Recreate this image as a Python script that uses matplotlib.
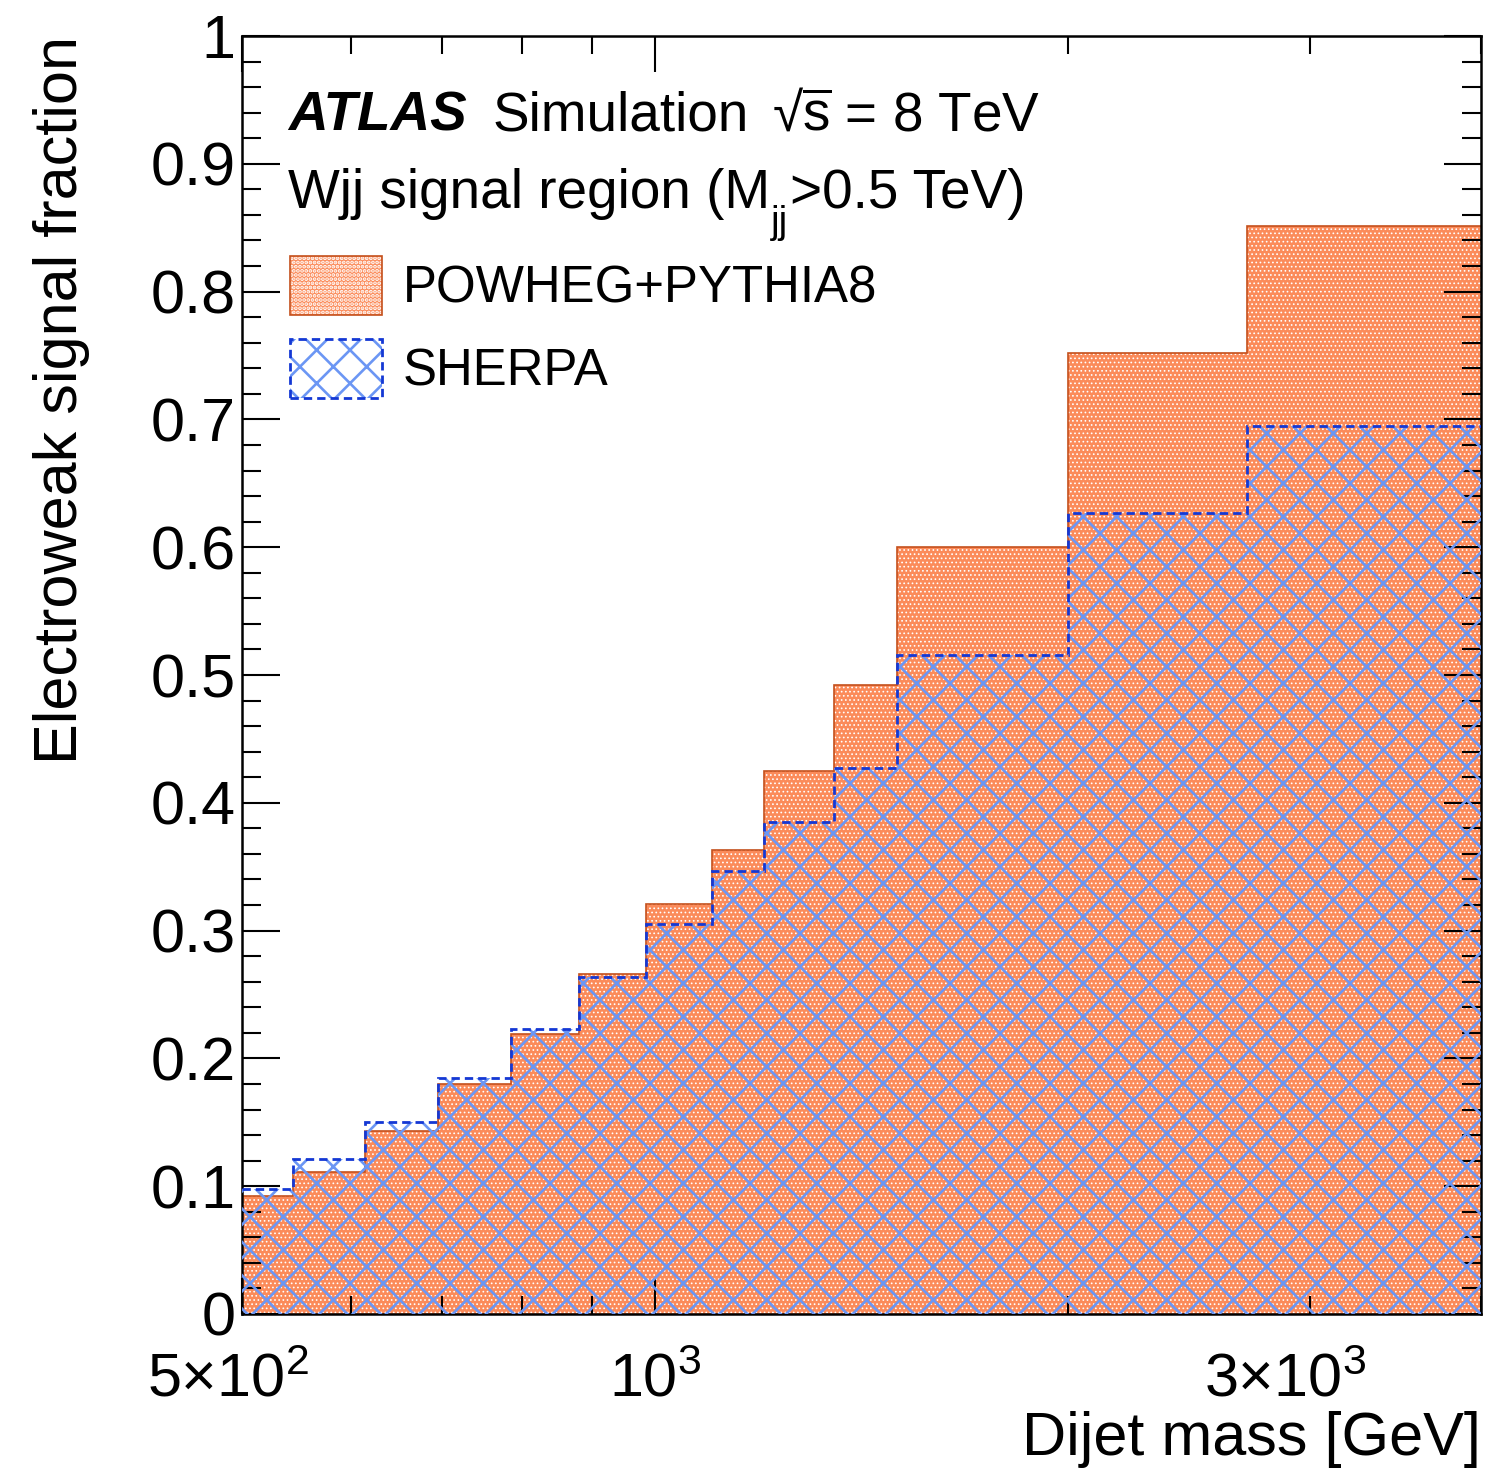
import matplotlib
matplotlib.use("Agg")
import matplotlib.pyplot as plt
import matplotlib.transforms as mtransforms
from matplotlib.patches import Patch
from matplotlib.legend_handler import HandlerTuple

# Dijet-mass binning [GeV] and electroweak signal fractions per bin
mjj_edges = [500, 545, 615, 695, 785, 880, 985, 1100, 1200, 1350, 1500, 2000, 2700, 4000]
powheg_frac = [0.092, 0.111, 0.143, 0.180, 0.219, 0.266, 0.321, 0.363,
               0.425, 0.492, 0.600, 0.752, 0.851]
sherpa_frac = [0.098, 0.121, 0.150, 0.185, 0.223, 0.264, 0.305, 0.347,
               0.385, 0.427, 0.516, 0.627, 0.695]

x_major = [500, 1000]
x_major_labels = [r"$\mathregular{5{\times}10^{2}}$", r"$\mathregular{10^{3}}$"]
x_minor = [600, 700, 800, 900, 2000, 3000, 4000]
x_minor_labels = ["", "", "", "", "", r"$\mathregular{3{\times}10^{3}}$", ""]
y_major = [0, 0.1, 0.2, 0.3, 0.4, 0.5, 0.6, 0.7, 0.8, 0.9, 1.0]
y_major_labels = ["0", "0.1", "0.2", "0.3", "0.4", "0.5", "0.6", "0.7", "0.8", "0.9", "1"]

ORANGE = "#fb8b5a"
ORANGE_EDGE = "#c4501c"
BLUE_HATCH = "#6b96f4"
BLUE_LINE = "#1438d4"
HATCH_LW_DOTS = 0.7
HATCH_LW_CROSS = 1.9
DASH = (0, (3.0, 1.8))

plt.rcParams["font.family"] = ["Liberation Sans", "DejaVu Sans"]
plt.rcParams["mathtext.fontset"] = "custom"
plt.rcParams["mathtext.rm"] = "Liberation Sans"
plt.rcParams["mathtext.it"] = "Liberation Sans:italic"
plt.rcParams["mathtext.bf"] = "Liberation Sans:bold"
plt.rcParams["hatch.linewidth"] = HATCH_LW_CROSS


def hatch_lw(artist, lw):
    if hasattr(artist, "set_hatch_linewidth"):
        artist.set_hatch_linewidth(lw)
    return artist


fig = plt.figure(figsize=(14.96, 14.75), dpi=100)
ax = fig.add_axes([242 / 1496, 161 / 1475, 1239 / 1496, 1278 / 1475])
ax.set_xscale("log")
ax.set_xlim(500, 4000)
ax.set_ylim(0, 1)

# POWHEG+PYTHIA8: dotted orange fill with a solid outline
with plt.rc_context({"hatch.linewidth": HATCH_LW_DOTS}):
    p_fill = ax.stairs(powheg_frac, mjj_edges, baseline=0, fill=True,
                       facecolor=ORANGE, edgecolor="white", hatch="....",
                       linewidth=0, zorder=1)
    hatch_lw(p_fill, HATCH_LW_DOTS)
ax.stairs(powheg_frac, mjj_edges, baseline=None, color=ORANGE_EDGE,
          linewidth=1.2, zorder=2)

# SHERPA: blue cross-hatch with dashed outline
s_fill = ax.stairs(sherpa_frac, mjj_edges, baseline=0, fill=True,
                   facecolor="none", edgecolor=BLUE_HATCH, hatch="x",
                   linewidth=0, zorder=3)
hatch_lw(s_fill, HATCH_LW_CROSS)
ax.stairs(sherpa_frac, mjj_edges, baseline=None, color=BLUE_LINE,
          linewidth=2.0, linestyle=DASH, zorder=4)

# Axis ticks, ATLAS style: inward on all four sides
ax.set_xticks(x_major, labels=x_major_labels)
ax.set_xticks(x_minor, labels=x_minor_labels, minor=True)
ax.set_yticks(y_major, labels=y_major_labels)
ax.set_yticks([v / 100 for v in range(0, 101, 2)], minor=True)
ax.yaxis.set_minor_formatter(plt.NullFormatter())
ax.tick_params(which="both", direction="in", top=True, right=True,
               width=1.5, colors="black")
ax.tick_params(axis="x", which="major", length=26, labelsize=44, pad=28)
ax.tick_params(axis="x", which="minor", length=13, labelsize=44, pad=28)
ax.tick_params(axis="y", which="major", length=27, labelsize=44, pad=4.5)
ax.tick_params(axis="y", which="minor", length=13.5)
for sp in ax.spines.values():
    sp.set_linewidth(1.8)

# Nudge the multiplied-exponent labels slightly left
for tick, dx in ((ax.xaxis.get_major_ticks()[0], -14),
                 (ax.xaxis.get_minor_ticks()[5], -24)):
    lab = tick.label1
    lab.set_transform(lab.get_transform() +
                      mtransforms.ScaledTranslation(dx / 100, 0, fig.dpi_scale_trans))

ax.set_xlabel("Dijet mass [GeV]", fontsize=44, loc="right")
ax.xaxis.set_label_coords(1.0, -0.076)
ax.set_ylabel("Electroweak signal fraction", fontsize=44, loc="top")
ax.yaxis.set_label_coords(-0.123, 1.0)

# Header
HS = 39.5
ax.text(0.0371, 0.9257, "ATLAS", transform=ax.transAxes, fontsize=HS,
        fontweight="bold", fontstyle="italic", va="baseline")
ax.text(0.2018, 0.9257, "Simulation", transform=ax.transAxes, fontsize=HS,
        va="baseline")
ax.text(0.428, 0.9257, r"√$\overline{\mathregular{s}}$ = 8 TeV",
        transform=ax.transAxes, fontsize=HS, va="baseline")

t_main = ax.text(0.0371, 0.8654, "Wjj signal region (M", transform=ax.transAxes,
                 fontsize=HS, va="baseline")
t_sub = ax.annotate("jj", xy=(1, 0.8654), xycoords=(t_main, ax.transAxes),
                    xytext=(0.5, -18), textcoords="offset points",
                    fontsize=27.5, va="baseline", ha="left")
ax.annotate(">0.5 TeV)", xy=(1, 0.8654), xycoords=(t_sub, ax.transAxes),
            xytext=(1.5, 0), textcoords="offset points",
            fontsize=HS, va="baseline", ha="left")

# Legend
with plt.rc_context({"hatch.linewidth": HATCH_LW_DOTS}):
    h_p_fill = hatch_lw(Patch(facecolor=ORANGE, edgecolor="white", hatch="....",
                              linewidth=0), HATCH_LW_DOTS)
h_p_edge = Patch(facecolor="none", edgecolor=ORANGE_EDGE, linewidth=1.2)
h_s_fill = hatch_lw(Patch(facecolor="none", edgecolor=BLUE_HATCH, hatch="x",
                          linewidth=0), HATCH_LW_CROSS)
h_s_edge = Patch(facecolor="none", edgecolor=BLUE_LINE, linewidth=2.0,
                 linestyle=DASH)

ax.legend([(h_p_fill, h_p_edge), (h_s_fill, h_s_edge)],
          ["POWHEG+PYTHIA8", "SHERPA"],
          handler_map={tuple: HandlerTuple(ndivide=1, pad=0)},
          loc="upper left", bbox_to_anchor=(0.0387, 0.8279),
          frameon=False, fontsize=36.7, borderpad=0, borderaxespad=0,
          handlelength=1.8, handleheight=1.40, handletextpad=0.41,
          labelspacing=0.47)

fig.savefig("out.png", dpi=100)
